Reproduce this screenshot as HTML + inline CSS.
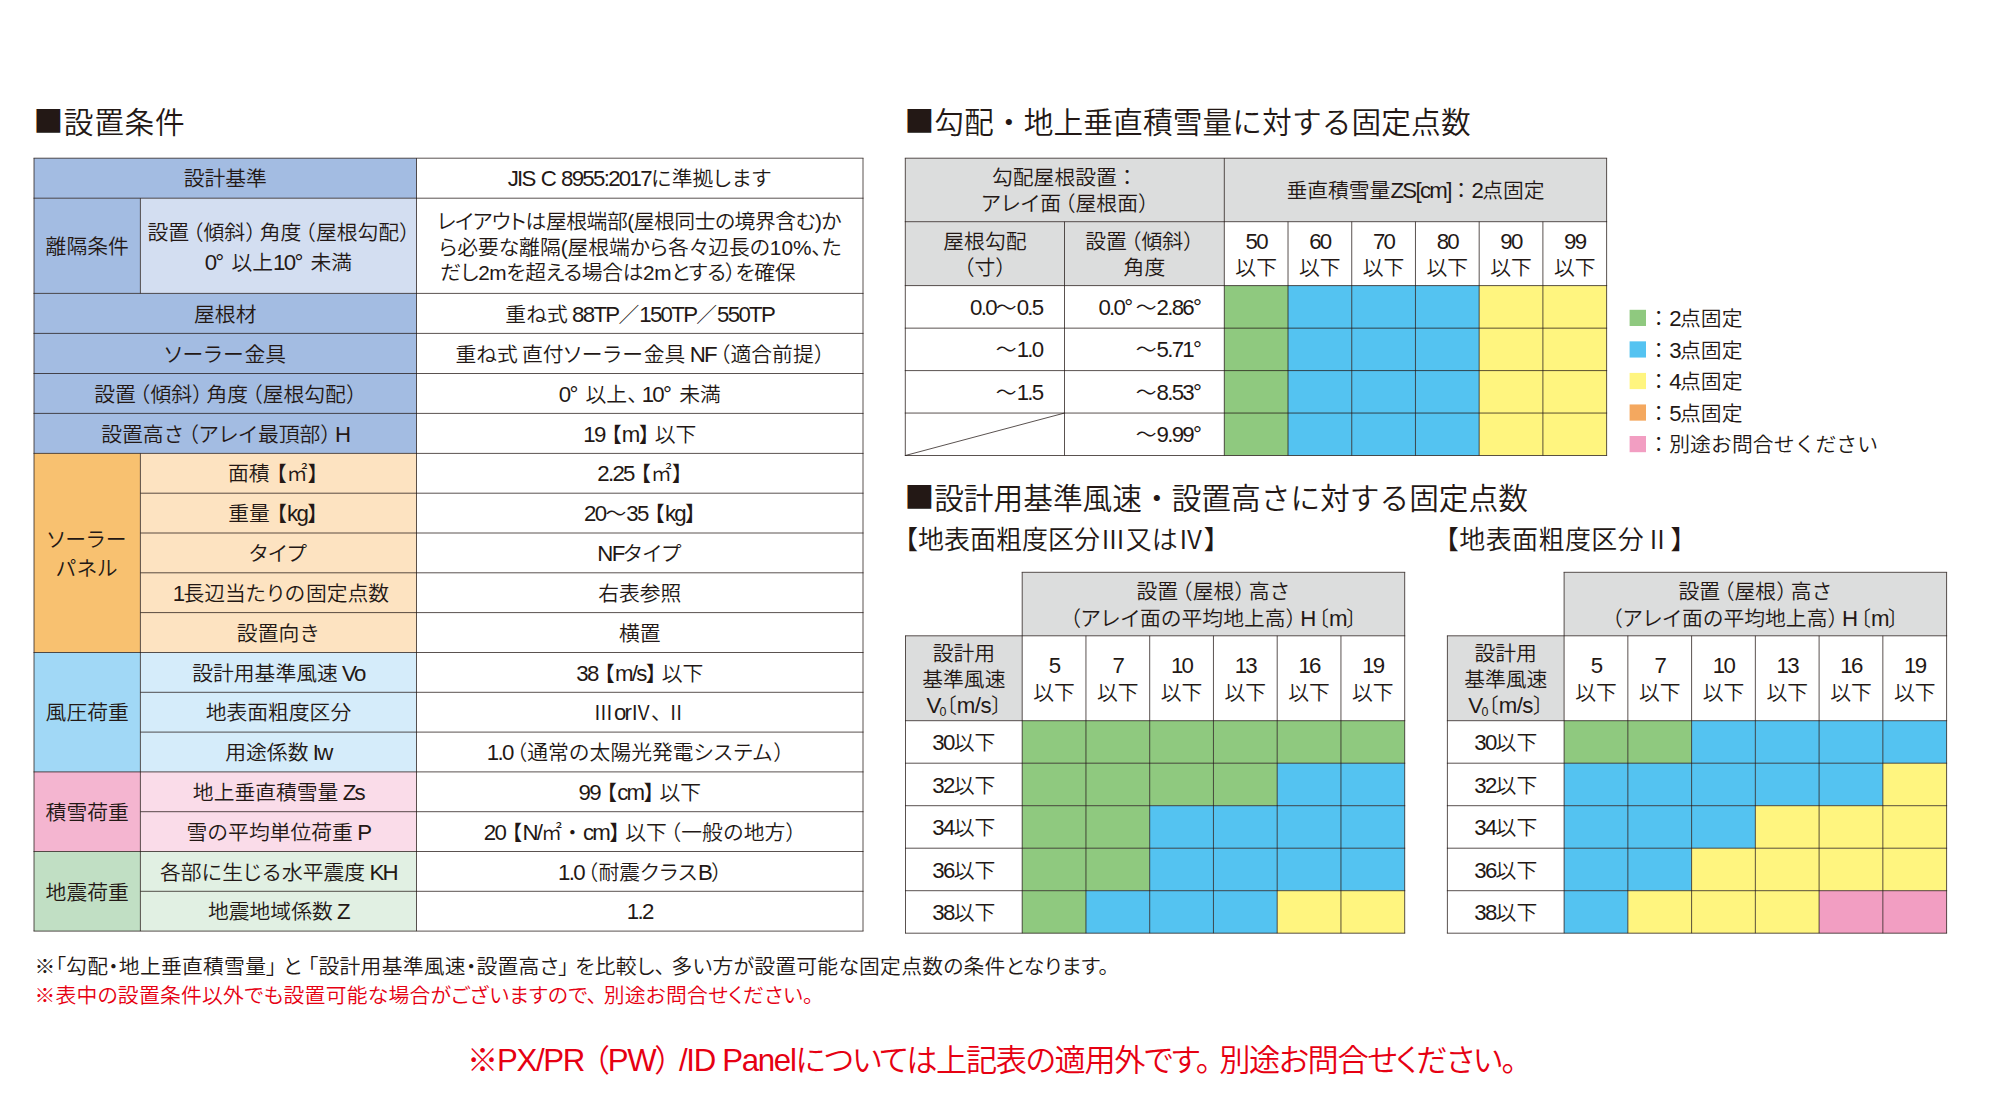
<!DOCTYPE html>
<html lang="ja"><head><meta charset="utf-8"><title>設置条件</title>
<style>
html,body{margin:0;padding:0;background:#fff;}
body{width:2000px;height:1100px;position:relative;overflow:hidden;
 font-family:"Liberation Sans","Noto Sans CJK JP",sans-serif;font-weight:350;color:#231815;font-size:20.8px;}
svg{position:absolute;left:0;top:0;}
.t{position:absolute;display:flex;align-items:center;justify-content:center;text-align:center;
 line-height:26.6px;white-space:nowrap;box-sizing:border-box;word-spacing:-1.5px;}
.t.r{justify-content:flex-end;text-align:right;}
.t.l{justify-content:flex-start;text-align:left;}
.t.l3{line-height:26.1px;}
.f{position:absolute;white-space:nowrap;}
.sq{font-family:"Noto Sans CJK JP",sans-serif;position:relative;top:-1px;}
.g{display:inline-block;width:0.3em;}
.g2{display:inline-block;width:0.43em;}
.k{font-feature-settings:"palt";letter-spacing:1px;}
.b0,.bo,.bc,.bp,.bo2,.bc2{font-feature-settings:"halt";}
.bo2{margin-left:0.33em;}
.bc2{margin-right:0.27em;}
.bo{margin-left:0.2em;}
.bc{margin-right:0.2em;}
.bp{margin-right:0.2em;}
.a{font-size:1.07em;letter-spacing:-1.7px;word-spacing:1.5px;}
sub{font-size:0.6em;vertical-align:baseline;position:relative;top:0.25em;}
</style></head><body>
<svg width="2000" height="1100" viewBox="0 0 2000 1100">
<rect x="34.00" y="158.20" width="382.50" height="40.00" fill="#a3bce2"/>
<rect x="34.00" y="198.20" width="106.40" height="95.20" fill="#a3bce2"/>
<rect x="140.40" y="198.20" width="276.10" height="95.20" fill="#d3def1"/>
<rect x="34.00" y="293.40" width="382.50" height="160.00" fill="#a3bce2"/>
<rect x="34.00" y="453.40" width="106.40" height="199.10" fill="#f8c170"/>
<rect x="140.40" y="453.40" width="276.10" height="199.10" fill="#fde3c1"/>
<rect x="34.00" y="652.50" width="106.40" height="119.40" fill="#a1d8f6"/>
<rect x="140.40" y="652.50" width="276.10" height="119.40" fill="#d5ecfa"/>
<rect x="34.00" y="771.90" width="106.40" height="79.60" fill="#f4b5d0"/>
<rect x="140.40" y="771.90" width="276.10" height="79.60" fill="#fadce9"/>
<rect x="34.00" y="851.50" width="106.40" height="79.60" fill="#c1dfc4"/>
<rect x="140.40" y="851.50" width="276.10" height="79.60" fill="#e1f0e3"/>
<rect x="905.30" y="158.20" width="701.32" height="63.50" fill="#dcdddd"/>
<rect x="905.30" y="221.70" width="319.00" height="63.90" fill="#dcdddd"/>
<rect x="1224.30" y="285.60" width="63.72" height="169.90" fill="#8fc97f"/>
<rect x="1288.02" y="285.60" width="63.72" height="169.90" fill="#54c3f1"/>
<rect x="1351.74" y="285.60" width="63.72" height="169.90" fill="#54c3f1"/>
<rect x="1415.46" y="285.60" width="63.72" height="169.90" fill="#54c3f1"/>
<rect x="1479.18" y="285.60" width="63.72" height="169.90" fill="#fff57f"/>
<rect x="1542.90" y="285.60" width="63.72" height="169.90" fill="#fff57f"/>
<rect x="1629.60" y="309.80" width="16.40" height="16.20" fill="#8fc97f"/>
<rect x="1629.60" y="341.35" width="16.40" height="16.20" fill="#54c3f1"/>
<rect x="1629.60" y="372.90" width="16.40" height="16.20" fill="#fff57f"/>
<rect x="1629.60" y="404.45" width="16.40" height="16.20" fill="#f4a85f"/>
<rect x="1629.60" y="436.00" width="16.40" height="16.20" fill="#f29ec2"/>
<rect x="1022.20" y="572.30" width="382.50" height="63.50" fill="#dcdddd"/>
<rect x="905.50" y="635.80" width="116.70" height="84.90" fill="#dcdddd"/>
<rect x="1022.20" y="720.70" width="63.75" height="42.50" fill="#8fc97f"/>
<rect x="1085.95" y="720.70" width="63.75" height="42.50" fill="#8fc97f"/>
<rect x="1149.70" y="720.70" width="63.75" height="42.50" fill="#8fc97f"/>
<rect x="1213.45" y="720.70" width="63.75" height="42.50" fill="#8fc97f"/>
<rect x="1277.20" y="720.70" width="63.75" height="42.50" fill="#8fc97f"/>
<rect x="1340.95" y="720.70" width="63.75" height="42.50" fill="#8fc97f"/>
<rect x="1022.20" y="763.20" width="63.75" height="42.50" fill="#8fc97f"/>
<rect x="1085.95" y="763.20" width="63.75" height="42.50" fill="#8fc97f"/>
<rect x="1149.70" y="763.20" width="63.75" height="42.50" fill="#8fc97f"/>
<rect x="1213.45" y="763.20" width="63.75" height="42.50" fill="#8fc97f"/>
<rect x="1277.20" y="763.20" width="63.75" height="42.50" fill="#54c3f1"/>
<rect x="1340.95" y="763.20" width="63.75" height="42.50" fill="#54c3f1"/>
<rect x="1022.20" y="805.70" width="63.75" height="42.50" fill="#8fc97f"/>
<rect x="1085.95" y="805.70" width="63.75" height="42.50" fill="#8fc97f"/>
<rect x="1149.70" y="805.70" width="63.75" height="42.50" fill="#54c3f1"/>
<rect x="1213.45" y="805.70" width="63.75" height="42.50" fill="#54c3f1"/>
<rect x="1277.20" y="805.70" width="63.75" height="42.50" fill="#54c3f1"/>
<rect x="1340.95" y="805.70" width="63.75" height="42.50" fill="#54c3f1"/>
<rect x="1022.20" y="848.20" width="63.75" height="42.50" fill="#8fc97f"/>
<rect x="1085.95" y="848.20" width="63.75" height="42.50" fill="#8fc97f"/>
<rect x="1149.70" y="848.20" width="63.75" height="42.50" fill="#54c3f1"/>
<rect x="1213.45" y="848.20" width="63.75" height="42.50" fill="#54c3f1"/>
<rect x="1277.20" y="848.20" width="63.75" height="42.50" fill="#54c3f1"/>
<rect x="1340.95" y="848.20" width="63.75" height="42.50" fill="#54c3f1"/>
<rect x="1022.20" y="890.70" width="63.75" height="42.50" fill="#8fc97f"/>
<rect x="1085.95" y="890.70" width="63.75" height="42.50" fill="#54c3f1"/>
<rect x="1149.70" y="890.70" width="63.75" height="42.50" fill="#54c3f1"/>
<rect x="1213.45" y="890.70" width="63.75" height="42.50" fill="#54c3f1"/>
<rect x="1277.20" y="890.70" width="63.75" height="42.50" fill="#fff57f"/>
<rect x="1340.95" y="890.70" width="63.75" height="42.50" fill="#fff57f"/>
<rect x="1564.10" y="572.30" width="382.50" height="63.50" fill="#dcdddd"/>
<rect x="1447.40" y="635.80" width="116.70" height="84.90" fill="#dcdddd"/>
<rect x="1564.10" y="720.70" width="63.75" height="42.50" fill="#8fc97f"/>
<rect x="1627.85" y="720.70" width="63.75" height="42.50" fill="#8fc97f"/>
<rect x="1691.60" y="720.70" width="63.75" height="42.50" fill="#54c3f1"/>
<rect x="1755.35" y="720.70" width="63.75" height="42.50" fill="#54c3f1"/>
<rect x="1819.10" y="720.70" width="63.75" height="42.50" fill="#54c3f1"/>
<rect x="1882.85" y="720.70" width="63.75" height="42.50" fill="#54c3f1"/>
<rect x="1564.10" y="763.20" width="63.75" height="42.50" fill="#54c3f1"/>
<rect x="1627.85" y="763.20" width="63.75" height="42.50" fill="#54c3f1"/>
<rect x="1691.60" y="763.20" width="63.75" height="42.50" fill="#54c3f1"/>
<rect x="1755.35" y="763.20" width="63.75" height="42.50" fill="#54c3f1"/>
<rect x="1819.10" y="763.20" width="63.75" height="42.50" fill="#54c3f1"/>
<rect x="1882.85" y="763.20" width="63.75" height="42.50" fill="#fff57f"/>
<rect x="1564.10" y="805.70" width="63.75" height="42.50" fill="#54c3f1"/>
<rect x="1627.85" y="805.70" width="63.75" height="42.50" fill="#54c3f1"/>
<rect x="1691.60" y="805.70" width="63.75" height="42.50" fill="#54c3f1"/>
<rect x="1755.35" y="805.70" width="63.75" height="42.50" fill="#fff57f"/>
<rect x="1819.10" y="805.70" width="63.75" height="42.50" fill="#fff57f"/>
<rect x="1882.85" y="805.70" width="63.75" height="42.50" fill="#fff57f"/>
<rect x="1564.10" y="848.20" width="63.75" height="42.50" fill="#54c3f1"/>
<rect x="1627.85" y="848.20" width="63.75" height="42.50" fill="#54c3f1"/>
<rect x="1691.60" y="848.20" width="63.75" height="42.50" fill="#fff57f"/>
<rect x="1755.35" y="848.20" width="63.75" height="42.50" fill="#fff57f"/>
<rect x="1819.10" y="848.20" width="63.75" height="42.50" fill="#fff57f"/>
<rect x="1882.85" y="848.20" width="63.75" height="42.50" fill="#fff57f"/>
<rect x="1564.10" y="890.70" width="63.75" height="42.50" fill="#54c3f1"/>
<rect x="1627.85" y="890.70" width="63.75" height="42.50" fill="#fff57f"/>
<rect x="1691.60" y="890.70" width="63.75" height="42.50" fill="#fff57f"/>
<rect x="1755.35" y="890.70" width="63.75" height="42.50" fill="#fff57f"/>
<rect x="1819.10" y="890.70" width="63.75" height="42.50" fill="#f29ec2"/>
<rect x="1882.85" y="890.70" width="63.75" height="42.50" fill="#f29ec2"/>
<line x1="33.50" y1="158.20" x2="863.50" y2="158.20" stroke="#231815" stroke-width="0.75"/>
<line x1="33.50" y1="198.20" x2="863.50" y2="198.20" stroke="#231815" stroke-width="0.75"/>
<line x1="33.50" y1="293.40" x2="863.50" y2="293.40" stroke="#231815" stroke-width="0.75"/>
<line x1="33.50" y1="333.40" x2="863.50" y2="333.40" stroke="#231815" stroke-width="0.75"/>
<line x1="33.50" y1="373.50" x2="863.50" y2="373.50" stroke="#231815" stroke-width="0.75"/>
<line x1="33.50" y1="413.40" x2="863.50" y2="413.40" stroke="#231815" stroke-width="0.75"/>
<line x1="33.50" y1="453.40" x2="863.50" y2="453.40" stroke="#231815" stroke-width="0.75"/>
<line x1="140.40" y1="493.20" x2="863.50" y2="493.20" stroke="#231815" stroke-width="0.75"/>
<line x1="140.40" y1="533.00" x2="863.50" y2="533.00" stroke="#231815" stroke-width="0.75"/>
<line x1="140.40" y1="572.80" x2="863.50" y2="572.80" stroke="#231815" stroke-width="0.75"/>
<line x1="140.40" y1="612.60" x2="863.50" y2="612.60" stroke="#231815" stroke-width="0.75"/>
<line x1="33.50" y1="652.50" x2="863.50" y2="652.50" stroke="#231815" stroke-width="0.75"/>
<line x1="140.40" y1="692.30" x2="863.50" y2="692.30" stroke="#231815" stroke-width="0.75"/>
<line x1="140.40" y1="732.10" x2="863.50" y2="732.10" stroke="#231815" stroke-width="0.75"/>
<line x1="33.50" y1="771.90" x2="863.50" y2="771.90" stroke="#231815" stroke-width="0.75"/>
<line x1="140.40" y1="811.70" x2="863.50" y2="811.70" stroke="#231815" stroke-width="0.75"/>
<line x1="33.50" y1="851.50" x2="863.50" y2="851.50" stroke="#231815" stroke-width="0.75"/>
<line x1="140.40" y1="891.30" x2="863.50" y2="891.30" stroke="#231815" stroke-width="0.75"/>
<line x1="33.50" y1="931.10" x2="863.50" y2="931.10" stroke="#231815" stroke-width="0.75"/>
<line x1="34.00" y1="158.20" x2="34.00" y2="931.10" stroke="#231815" stroke-width="0.75"/>
<line x1="863.00" y1="158.20" x2="863.00" y2="931.10" stroke="#231815" stroke-width="0.75"/>
<line x1="416.50" y1="158.20" x2="416.50" y2="931.10" stroke="#231815" stroke-width="0.75"/>
<line x1="140.40" y1="198.20" x2="140.40" y2="293.40" stroke="#231815" stroke-width="0.75"/>
<line x1="140.40" y1="453.40" x2="140.40" y2="931.10" stroke="#231815" stroke-width="0.75"/>
<line x1="904.80" y1="158.20" x2="1607.12" y2="158.20" stroke="#231815" stroke-width="0.75"/>
<line x1="904.80" y1="221.70" x2="1607.12" y2="221.70" stroke="#231815" stroke-width="0.75"/>
<line x1="904.80" y1="285.60" x2="1607.12" y2="285.60" stroke="#231815" stroke-width="0.75"/>
<line x1="904.80" y1="328.15" x2="1607.12" y2="328.15" stroke="#231815" stroke-width="0.75"/>
<line x1="904.80" y1="370.60" x2="1607.12" y2="370.60" stroke="#231815" stroke-width="0.75"/>
<line x1="904.80" y1="413.05" x2="1607.12" y2="413.05" stroke="#231815" stroke-width="0.75"/>
<line x1="904.80" y1="455.50" x2="1607.12" y2="455.50" stroke="#231815" stroke-width="0.75"/>
<line x1="905.30" y1="158.20" x2="905.30" y2="455.50" stroke="#231815" stroke-width="0.75"/>
<line x1="1606.62" y1="158.20" x2="1606.62" y2="455.50" stroke="#231815" stroke-width="0.75"/>
<line x1="1224.30" y1="158.20" x2="1224.30" y2="455.50" stroke="#231815" stroke-width="0.75"/>
<line x1="1064.50" y1="221.70" x2="1064.50" y2="455.50" stroke="#231815" stroke-width="0.75"/>
<line x1="1288.02" y1="221.70" x2="1288.02" y2="455.50" stroke="#231815" stroke-width="0.75"/>
<line x1="1351.74" y1="221.70" x2="1351.74" y2="455.50" stroke="#231815" stroke-width="0.75"/>
<line x1="1415.46" y1="221.70" x2="1415.46" y2="455.50" stroke="#231815" stroke-width="0.75"/>
<line x1="1479.18" y1="221.70" x2="1479.18" y2="455.50" stroke="#231815" stroke-width="0.75"/>
<line x1="1542.90" y1="221.70" x2="1542.90" y2="455.50" stroke="#231815" stroke-width="0.75"/>
<line x1="905.3" y1="455.5" x2="1064.5" y2="413.05" stroke="#231815" stroke-width="0.75"/>
<line x1="1021.70" y1="572.30" x2="1405.20" y2="572.30" stroke="#231815" stroke-width="0.75"/>
<line x1="905.00" y1="635.80" x2="1405.20" y2="635.80" stroke="#231815" stroke-width="0.75"/>
<line x1="905.00" y1="720.70" x2="1405.20" y2="720.70" stroke="#231815" stroke-width="0.75"/>
<line x1="905.00" y1="763.20" x2="1405.20" y2="763.20" stroke="#231815" stroke-width="0.75"/>
<line x1="905.00" y1="805.70" x2="1405.20" y2="805.70" stroke="#231815" stroke-width="0.75"/>
<line x1="905.00" y1="848.20" x2="1405.20" y2="848.20" stroke="#231815" stroke-width="0.75"/>
<line x1="905.00" y1="890.70" x2="1405.20" y2="890.70" stroke="#231815" stroke-width="0.75"/>
<line x1="905.00" y1="933.20" x2="1405.20" y2="933.20" stroke="#231815" stroke-width="0.75"/>
<line x1="905.50" y1="635.80" x2="905.50" y2="933.20" stroke="#231815" stroke-width="0.75"/>
<line x1="1022.20" y1="572.30" x2="1022.20" y2="933.20" stroke="#231815" stroke-width="0.75"/>
<line x1="1404.70" y1="572.30" x2="1404.70" y2="933.20" stroke="#231815" stroke-width="0.75"/>
<line x1="1085.95" y1="635.80" x2="1085.95" y2="933.20" stroke="#231815" stroke-width="0.75"/>
<line x1="1149.70" y1="635.80" x2="1149.70" y2="933.20" stroke="#231815" stroke-width="0.75"/>
<line x1="1213.45" y1="635.80" x2="1213.45" y2="933.20" stroke="#231815" stroke-width="0.75"/>
<line x1="1277.20" y1="635.80" x2="1277.20" y2="933.20" stroke="#231815" stroke-width="0.75"/>
<line x1="1340.95" y1="635.80" x2="1340.95" y2="933.20" stroke="#231815" stroke-width="0.75"/>
<line x1="1563.60" y1="572.30" x2="1947.10" y2="572.30" stroke="#231815" stroke-width="0.75"/>
<line x1="1446.90" y1="635.80" x2="1947.10" y2="635.80" stroke="#231815" stroke-width="0.75"/>
<line x1="1446.90" y1="720.70" x2="1947.10" y2="720.70" stroke="#231815" stroke-width="0.75"/>
<line x1="1446.90" y1="763.20" x2="1947.10" y2="763.20" stroke="#231815" stroke-width="0.75"/>
<line x1="1446.90" y1="805.70" x2="1947.10" y2="805.70" stroke="#231815" stroke-width="0.75"/>
<line x1="1446.90" y1="848.20" x2="1947.10" y2="848.20" stroke="#231815" stroke-width="0.75"/>
<line x1="1446.90" y1="890.70" x2="1947.10" y2="890.70" stroke="#231815" stroke-width="0.75"/>
<line x1="1446.90" y1="933.20" x2="1947.10" y2="933.20" stroke="#231815" stroke-width="0.75"/>
<line x1="1447.40" y1="635.80" x2="1447.40" y2="933.20" stroke="#231815" stroke-width="0.75"/>
<line x1="1564.10" y1="572.30" x2="1564.10" y2="933.20" stroke="#231815" stroke-width="0.75"/>
<line x1="1946.60" y1="572.30" x2="1946.60" y2="933.20" stroke="#231815" stroke-width="0.75"/>
<line x1="1627.85" y1="635.80" x2="1627.85" y2="933.20" stroke="#231815" stroke-width="0.75"/>
<line x1="1691.60" y1="635.80" x2="1691.60" y2="933.20" stroke="#231815" stroke-width="0.75"/>
<line x1="1755.35" y1="635.80" x2="1755.35" y2="933.20" stroke="#231815" stroke-width="0.75"/>
<line x1="1819.10" y1="635.80" x2="1819.10" y2="933.20" stroke="#231815" stroke-width="0.75"/>
<line x1="1882.85" y1="635.80" x2="1882.85" y2="933.20" stroke="#231815" stroke-width="0.75"/>
</svg>
<div class="t " style="left:34.00px;top:159.70px;width:382.50px;height:40.00px;"><span>設計基準</span></div>
<div class="t " style="left:416.50px;top:159.70px;width:446.50px;height:40.00px;"><span><span class="a">JIS C 8955:2017</span>に準拠<span class="k">します</span></span></div>
<div class="t " style="left:34.00px;top:294.90px;width:382.50px;height:40.00px;"><span>屋根材</span></div>
<div class="t " style="left:416.50px;top:294.90px;width:446.50px;height:40.00px;"><span>重ね式 <span class="a">88TP</span>／<span class="a">150TP</span>／<span class="a">550TP</span></span></div>
<div class="t " style="left:34.00px;top:334.90px;width:382.50px;height:40.10px;"><span><span class="k">ソーラー</span>金具</span></div>
<div class="t " style="left:416.50px;top:334.90px;width:446.50px;height:40.10px;"><span>重ね式 直付<span class="k">ソーラー</span>金具 <span class="a">NF</span><span class="bo">（</span>適合前提<span class="b0">）</span></span></div>
<div class="t " style="left:34.00px;top:375.00px;width:382.50px;height:39.90px;"><span>設置<span class="bo">（</span>傾斜<span class="bc">）</span>角度<span class="bo">（</span>屋根勾配<span class="b0">）</span></span></div>
<div class="t " style="left:416.50px;top:375.00px;width:446.50px;height:39.90px;"><span><span class="a">0°</span><span class="g2"></span>以上<span class="bp">、</span><span class="a">10°</span><span class="g2"></span>未満</span></div>
<div class="t " style="left:34.00px;top:414.90px;width:382.50px;height:40.00px;"><span>設置高さ<span class="bo">（</span><span class="k">アレイ</span>最頂部<span class="bc">）</span><span class="a">H</span></span></div>
<div class="t " style="left:416.50px;top:414.90px;width:446.50px;height:40.00px;"><span><span class="a">19</span><span class="bo2">【</span><span class="a">m</span><span class="bc2">】</span>以下</span></div>
<div class="t " style="left:34.00px;top:199.70px;width:106.40px;height:95.20px;"><span>離隔条件</span></div>
<div class="t " style="left:140.40px;top:200.10px;width:276.10px;height:95.20px;line-height:29.6px;"><span>設置<span class="bo">（</span>傾斜<span class="bc">）</span>角度<span class="bo">（</span>屋根勾配<span class="b0">）</span><br><span class="a">0°</span><span class="g2"></span>以上<span class="a">10°</span><span class="g2"></span>未満</span></div>
<div class="t " style="left:34.00px;top:454.90px;width:106.40px;height:199.10px;line-height:29.2px;"><span><span class="k">ソーラー</span><br><span class="k">パネル</span></span></div>
<div class="t " style="left:34.00px;top:654.00px;width:106.40px;height:119.40px;"><span>風圧荷重</span></div>
<div class="t " style="left:34.00px;top:773.40px;width:106.40px;height:79.60px;"><span>積雪荷重</span></div>
<div class="t " style="left:34.00px;top:853.00px;width:106.40px;height:79.60px;"><span>地震荷重</span></div>
<div class="t " style="left:140.40px;top:454.90px;width:276.10px;height:39.80px;padding-right:11px;"><span>面積<span class="bo2">【</span>㎡<span class="b0">】</span></span></div>
<div class="t " style="left:416.50px;top:454.90px;width:446.50px;height:39.80px;"><span><span class="a">2.25</span><span class="bo2">【</span>㎡<span class="b0">】</span></span></div>
<div class="t " style="left:140.40px;top:494.70px;width:276.10px;height:39.80px;padding-right:11px;"><span>重量<span class="bo2">【</span><span class="a">kg</span><span class="b0">】</span></span></div>
<div class="t " style="left:416.50px;top:494.70px;width:446.50px;height:39.80px;"><span><span class="a">20</span>～<span class="a">35</span><span class="bo2">【</span><span class="a">kg</span><span class="b0">】</span></span></div>
<div class="t " style="left:140.40px;top:534.50px;width:276.10px;height:39.80px;"><span><span class="k">タイプ</span></span></div>
<div class="t " style="left:416.50px;top:534.50px;width:446.50px;height:39.80px;"><span><span class="a">NF</span><span class="k">タイプ</span></span></div>
<div class="t " style="left:140.40px;top:574.30px;width:276.10px;height:39.80px;"><span><span class="g" style="width:5px"></span><span class="a">1</span>長辺当<span class="k">たりの</span>固定点数</span></div>
<div class="t " style="left:416.50px;top:574.30px;width:446.50px;height:39.80px;"><span>右表参照</span></div>
<div class="t " style="left:140.40px;top:614.10px;width:276.10px;height:39.90px;"><span>設置向き</span></div>
<div class="t " style="left:416.50px;top:614.10px;width:446.50px;height:39.90px;"><span>横置</span></div>
<div class="t " style="left:140.40px;top:654.00px;width:276.10px;height:39.80px;"><span>設計用基準風速 <span class="a">Vo</span></span></div>
<div class="t " style="left:416.50px;top:654.00px;width:446.50px;height:39.80px;"><span><span class="a">38</span><span class="bo2">【</span><span class="a">m/s</span><span class="bc2">】</span>以下</span></div>
<div class="t " style="left:140.40px;top:693.80px;width:276.10px;height:39.80px;"><span>地表面粗度区分</span></div>
<div class="t " style="left:416.50px;top:693.80px;width:446.50px;height:39.80px;"><span>Ⅲ<span class="a">or</span>Ⅳ<span class="bp">、</span>Ⅱ</span></div>
<div class="t " style="left:140.40px;top:733.60px;width:276.10px;height:39.80px;"><span>用途係数 <span class="a">Iw</span></span></div>
<div class="t " style="left:416.50px;top:733.60px;width:446.50px;height:39.80px;"><span><span class="a">1.0</span><span class="bo">（</span>通常の太陽光発電<span class="k">システム</span><span class="b0">）</span><span class="g" style="width:9px"></span></span></div>
<div class="t " style="left:140.40px;top:773.40px;width:276.10px;height:39.80px;"><span>地上垂直積雪量 <span class="a">Zs</span></span></div>
<div class="t " style="left:416.50px;top:773.40px;width:446.50px;height:39.80px;"><span><span class="a">99</span><span class="bo2">【</span><span class="a">cm</span><span class="bc2">】</span>以下</span></div>
<div class="t " style="left:140.40px;top:813.20px;width:276.10px;height:39.80px;"><span>雪の平均単位荷重 <span class="a">P</span></span></div>
<div class="t " style="left:416.50px;top:813.20px;width:446.50px;height:39.80px;"><span><span class="a">20</span><span class="bo2">【</span><span class="a">N/</span>㎡・<span class="a">cm</span><span class="bc2">】</span>以下<span class="bo">（</span>一般の地方<span class="b0">）</span></span></div>
<div class="t " style="left:140.40px;top:853.00px;width:276.10px;height:39.80px;"><span>各部に生<span class="k">じる</span>水平震度 <span class="a">KH</span></span></div>
<div class="t " style="left:416.50px;top:853.00px;width:446.50px;height:39.80px;"><span><span class="a">1.0</span><span class="bo">（</span>耐震<span class="k">クラス</span><span class="a">B</span><span class="b0">）</span></span></div>
<div class="t " style="left:140.40px;top:892.80px;width:276.10px;height:39.80px;"><span>地震地域係数 <span class="a">Z</span></span></div>
<div class="t " style="left:416.50px;top:892.80px;width:446.50px;height:39.80px;"><span><span class="a">1.2</span></span></div>
<div class="t " style="left:905.30px;top:159.70px;width:319.00px;height:63.50px;"><span>勾配屋根設置：<br><span class="k">アレイ</span>面<span class="bo">（</span>屋根面<span class="b0">）</span></span></div>
<div class="t " style="left:1224.30px;top:159.70px;width:382.32px;height:63.50px;"><span>垂直積雪量<span class="a">ZS[cm]</span>：<span class="a">2</span>点固定</span></div>
<div class="t " style="left:905.30px;top:223.20px;width:159.20px;height:63.90px;"><span>屋根勾配<br><span class="b0">（</span>寸<span class="b0">）</span></span></div>
<div class="t " style="left:1064.50px;top:223.20px;width:159.80px;height:63.90px;"><span>設置<span class="bo">（</span>傾斜<span class="b0">）</span><span class="g" style="width:10px"></span><br>角度</span></div>
<div class="t " style="left:1224.30px;top:223.20px;width:63.72px;height:63.90px;"><span><span class="a">50</span><br>以下</span></div>
<div class="t " style="left:1288.02px;top:223.20px;width:63.72px;height:63.90px;"><span><span class="a">60</span><br>以下</span></div>
<div class="t " style="left:1351.74px;top:223.20px;width:63.72px;height:63.90px;"><span><span class="a">70</span><br>以下</span></div>
<div class="t " style="left:1415.46px;top:223.20px;width:63.72px;height:63.90px;"><span><span class="a">80</span><br>以下</span></div>
<div class="t " style="left:1479.18px;top:223.20px;width:63.72px;height:63.90px;"><span><span class="a">90</span><br>以下</span></div>
<div class="t " style="left:1542.90px;top:223.20px;width:63.72px;height:63.90px;"><span><span class="a">99</span><br>以下</span></div>
<div class="t r" style="left:905.30px;top:286.60px;width:137.20px;height:42.55px;"><span><span class="a">0.0</span>～<span class="a">0.5</span></span></div>
<div class="t r" style="left:1064.50px;top:286.60px;width:135.70px;height:42.55px;"><span><span class="a">0.0°</span> ～<span class="a">2.86°</span></span></div>
<div class="t r" style="left:905.30px;top:329.15px;width:137.20px;height:42.45px;"><span>～<span class="a">1.0</span></span></div>
<div class="t r" style="left:1064.50px;top:329.15px;width:135.70px;height:42.45px;"><span>～<span class="a">5.71°</span></span></div>
<div class="t r" style="left:905.30px;top:371.60px;width:137.20px;height:42.45px;"><span>～<span class="a">1.5</span></span></div>
<div class="t r" style="left:1064.50px;top:371.60px;width:135.70px;height:42.45px;"><span>～<span class="a">8.53°</span></span></div>
<div class="t r" style="left:1064.50px;top:414.05px;width:135.70px;height:42.45px;"><span>～<span class="a">9.99°</span></span></div>
<div class="t l" style="left:1648.30px;top:304.40px;width:341.70px;height:30.00px;letter-spacing:0.1px;"><span>：<span class="a">2</span>点固定</span></div>
<div class="t l" style="left:1648.30px;top:335.95px;width:341.70px;height:30.00px;letter-spacing:0.1px;"><span>：<span class="a">3</span>点固定</span></div>
<div class="t l" style="left:1648.30px;top:367.50px;width:341.70px;height:30.00px;letter-spacing:0.1px;"><span>：<span class="a">4</span>点固定</span></div>
<div class="t l" style="left:1648.30px;top:399.05px;width:341.70px;height:30.00px;letter-spacing:0.1px;"><span>：<span class="a">5</span>点固定</span></div>
<div class="t l" style="left:1648.30px;top:430.60px;width:341.70px;height:30.00px;letter-spacing:0.1px;"><span>：別途お問合せください</span></div>
<div class="t " style="left:1022.20px;top:573.80px;width:382.50px;height:63.50px;"><span>設置<span class="bo">（</span>屋根<span class="bc">）</span>高さ<br><span class="b0">（</span><span class="k">アレイ</span>面の平均地上高<span class="bc">）</span><span class="a">H</span><span class="bo">〔</span><span class="a">m</span><span class="b0">〕</span></span></div>
<div class="t l3" style="left:905.50px;top:639.30px;width:116.70px;height:84.90px;"><span>設計用<br>基準風速<br><span class="a">V</span><sub>0</sub><span class="b0">〔</span><span class="a" style="letter-spacing:-0.6px">m/s</span><span class="b0">〕</span></span></div>
<div class="t " style="left:1022.20px;top:637.30px;width:63.75px;height:84.90px;"><span><span class="a">5</span><br>以下</span></div>
<div class="t " style="left:1085.95px;top:637.30px;width:63.75px;height:84.90px;"><span><span class="a">7</span><br>以下</span></div>
<div class="t " style="left:1149.70px;top:637.30px;width:63.75px;height:84.90px;"><span><span class="a">10</span><br>以下</span></div>
<div class="t " style="left:1213.45px;top:637.30px;width:63.75px;height:84.90px;"><span><span class="a">13</span><br>以下</span></div>
<div class="t " style="left:1277.20px;top:637.30px;width:63.75px;height:84.90px;"><span><span class="a">16</span><br>以下</span></div>
<div class="t " style="left:1340.95px;top:637.30px;width:63.75px;height:84.90px;"><span><span class="a">19</span><br>以下</span></div>
<div class="t " style="left:905.50px;top:722.50px;width:116.70px;height:42.50px;"><span><span class="a">30</span>以下</span></div>
<div class="t " style="left:905.50px;top:765.00px;width:116.70px;height:42.50px;"><span><span class="a">32</span>以下</span></div>
<div class="t " style="left:905.50px;top:807.50px;width:116.70px;height:42.50px;"><span><span class="a">34</span>以下</span></div>
<div class="t " style="left:905.50px;top:850.00px;width:116.70px;height:42.50px;"><span><span class="a">36</span>以下</span></div>
<div class="t " style="left:905.50px;top:892.50px;width:116.70px;height:42.50px;"><span><span class="a">38</span>以下</span></div>
<div class="t " style="left:1564.10px;top:573.80px;width:382.50px;height:63.50px;"><span>設置<span class="bo">（</span>屋根<span class="bc">）</span>高さ<br><span class="b0">（</span><span class="k">アレイ</span>面の平均地上高<span class="bc">）</span><span class="a">H</span><span class="bo">〔</span><span class="a">m</span><span class="b0">〕</span></span></div>
<div class="t l3" style="left:1447.40px;top:639.30px;width:116.70px;height:84.90px;"><span>設計用<br>基準風速<br><span class="a">V</span><sub>0</sub><span class="b0">〔</span><span class="a" style="letter-spacing:-0.6px">m/s</span><span class="b0">〕</span></span></div>
<div class="t " style="left:1564.10px;top:637.30px;width:63.75px;height:84.90px;"><span><span class="a">5</span><br>以下</span></div>
<div class="t " style="left:1627.85px;top:637.30px;width:63.75px;height:84.90px;"><span><span class="a">7</span><br>以下</span></div>
<div class="t " style="left:1691.60px;top:637.30px;width:63.75px;height:84.90px;"><span><span class="a">10</span><br>以下</span></div>
<div class="t " style="left:1755.35px;top:637.30px;width:63.75px;height:84.90px;"><span><span class="a">13</span><br>以下</span></div>
<div class="t " style="left:1819.10px;top:637.30px;width:63.75px;height:84.90px;"><span><span class="a">16</span><br>以下</span></div>
<div class="t " style="left:1882.85px;top:637.30px;width:63.75px;height:84.90px;"><span><span class="a">19</span><br>以下</span></div>
<div class="t " style="left:1447.40px;top:722.50px;width:116.70px;height:42.50px;"><span><span class="a">30</span>以下</span></div>
<div class="t " style="left:1447.40px;top:765.00px;width:116.70px;height:42.50px;"><span><span class="a">32</span>以下</span></div>
<div class="t " style="left:1447.40px;top:807.50px;width:116.70px;height:42.50px;"><span><span class="a">34</span>以下</span></div>
<div class="t " style="left:1447.40px;top:850.00px;width:116.70px;height:42.50px;"><span><span class="a">36</span>以下</span></div>
<div class="t " style="left:1447.40px;top:892.50px;width:116.70px;height:42.50px;"><span><span class="a">38</span>以下</span></div>
<div class="f" id="h1" style="left:33.40px;top:98.53px;height:44.55px;line-height:44.55px;font-size:29.7px;color:#231815;letter-spacing:0.700px;"><span class="sq">■</span>設置条件</div>
<div class="f" id="h2" style="left:904.50px;top:98.53px;height:44.55px;line-height:44.55px;font-size:29.7px;color:#231815;letter-spacing:0.111px;"><span class="sq">■</span>勾配・地上垂直積雪量に対する固定点数</div>
<div class="f" id="h3" style="left:904.50px;top:474.93px;height:44.55px;line-height:44.55px;font-size:29.7px;color:#231815;letter-spacing:0.000px;"><span class="sq">■</span>設計用基準風速・設置高さに対する固定点数</div>
<div class="f" id="s1" style="left:892.00px;top:521.10px;height:39.00px;line-height:39.00px;font-size:26px;color:#231815;letter-spacing:-0.015px;">【地表面粗度区分Ⅲ又はⅣ】</div>
<div class="f" id="s2" style="left:1432.80px;top:521.10px;height:39.00px;line-height:39.00px;font-size:26px;color:#231815;letter-spacing:0.422px;">【地表面粗度区分Ⅱ】</div>
<div class="f" id="p1" style="left:437.20px;top:205.70px;height:31.20px;line-height:31.20px;font-size:20.8px;color:#231815;letter-spacing:-0.467px;font-feature-settings:'palt';">レイアウトは屋根端部(屋根同士の境界含む)か</div>
<div class="f" id="p2" style="left:439.20px;top:231.50px;height:31.20px;line-height:31.20px;font-size:20.8px;color:#231815;letter-spacing:-0.029px;font-feature-settings:'palt';">ら必要な離隔(屋根端から各々辺長の10%、た</div>
<div class="f" id="p3" style="left:440.20px;top:257.30px;height:31.20px;line-height:31.20px;font-size:20.8px;color:#231815;letter-spacing:-0.347px;font-feature-settings:'palt';">だし2mを超える場合は2mとする）を確保</div>
<div class="f" id="n1" style="left:34.40px;top:950.80px;height:31.20px;line-height:31.20px;font-size:20.8px;color:#231815;letter-spacing:0.252px;font-feature-settings:'palt';">※「勾配・地上垂直積雪量」<span class="g"></span>と<span class="g"></span>「設計用基準風速・設置高さ」<span class="g"></span>を比較し、<span class="g"></span>多い方が設置可能な固定点数の条件となります。</div>
<div class="f" id="n2" style="left:34.40px;top:980.00px;height:31.20px;line-height:31.20px;font-size:20.8px;color:#e60012;letter-spacing:0.253px;font-feature-settings:'palt';">※表中の設置条件以外でも設置可能な場合がございますので、<span class="g"></span>別途お問合せください。</div>
<div class="f" id="n3" style="left:467.00px;top:1037.60px;height:46.80px;line-height:46.80px;font-size:31.2px;color:#e60012;letter-spacing:-1.300px;font-feature-settings:'palt';">※PX/PR<span class="g"></span>（PW）<span class="g"></span>/ID Panelについては上記表の適用外です。<span class="g"></span>別途お問合せください。</div>
</body></html>
